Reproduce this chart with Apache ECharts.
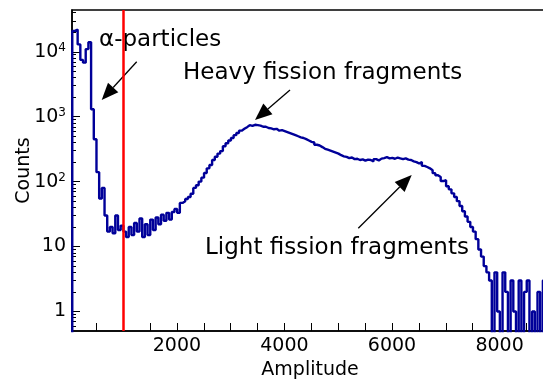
<!DOCTYPE html>
<html>
<head>
<meta charset="utf-8">
<script src="https://cdn.jsdelivr.net/npm/echarts@6/dist/echarts.min.js"></script>
<style>
  html, body { margin: 0; padding: 0; background: #fff; }
  #chart { width: 543px; height: 379px; }
</style>
</head>
<body>
<div id="chart"></div>
<script>
// histogram: bins of 50 starting at amplitude 55
const binStart = 55;
const binWidth = 50;
const counts = [
  21000, 22000, 13000, 7500, 6800, 11000, 14000, 1300, 450, 140,
  55, 80, 30, 17, 20, 16, 30, 18, 21, 17,
  14, 20, 15, 23, 17, 27, 14, 22, 15, 26,
  18, 28, 22, 31, 25, 33, 26, 34, 38, 33,
  47, 50, 54, 58, 65, 80, 88, 100, 115, 136,
  160, 180, 215, 241, 270, 295, 350, 390, 430, 470,
  520, 560, 610, 650, 690, 740, 720, 750, 740, 730,
  700, 700, 670, 660, 640, 650, 610, 620, 600, 580,
  560, 540, 520, 500, 480, 470, 450, 430, 410, 400,
  370, 360, 340, 320, 310, 300, 290, 280, 270, 255,
  245, 240, 230, 235, 222, 225, 215, 220, 210, 218,
  215, 205, 222, 212, 226, 230, 238, 228, 232, 225,
  235, 228, 222, 228, 218, 215, 205, 200, 190, 200,
  175, 168, 160, 150, 135, 125, 118, 102, 105, 85,
  76, 66, 58, 50, 42, 35, 29, 24, 20, 17,
  13, 9, 7, 5, 4, 3, 0, 4, 1, 0,
  4, 2, 0, 3, 1, 0, 3, 0, 2, 3,
  0, 1, 0, 2, 0, 3, 1
];
const cutValue = 1000;
const xLabelValues = [2000, 4000, 6000, 8000];
const xTickValues = [500, 1000, 1500, 2000, 2500, 3000, 3500, 4000, 4500, 5000, 5500, 6000, 6500, 7000, 7500, 8000, 8500];
const yMajorValues = [1, 10, 100, 1000, 10000];
const yLabelTexts = ['1', '10', '10{sup|2}', '10{sup|3}', '10{sup|4}'];

const yMinorValues = [0.6, 0.7, 0.8, 0.9];
for (const d of [1, 10, 100, 1000]) {
  for (let k = 2; k <= 9; k++) yMinorValues.push(k * d);
}
yMinorValues.push(20000, 30000, 40000);

const floor = 0.1;
const histData = [[binStart, floor]];
counts.forEach((c, i) => histData.push([binStart + i * binWidth, c > 0 ? c : floor]));
histData.push([binStart + counts.length * binWidth, counts[counts.length - 1] || floor]);

const FONT = 'DejaVu Sans';

function arrow(x1, y1, x2, y2) {
  const dx = x2 - x1, dy = y2 - y1;
  const len = Math.sqrt(dx * dx + dy * dy);
  const ux = dx / len, uy = dy / len;
  const hl = 17, hw = 7;
  const bx = x2 - ux * hl, by = y2 - uy * hl;
  return [
    { type: 'line', shape: { x1: x1, y1: y1, x2: bx, y2: by }, style: { stroke: '#000', lineWidth: 1.3 } },
    { type: 'polygon', shape: { points: [[x2, y2], [bx - uy * hw, by + ux * hw], [bx + uy * hw, by - ux * hw]] }, style: { fill: '#000' } }
  ];
}

function label(text, x, y) {
  return { type: 'text', style: { x: x, y: y, text: text, fill: '#000', font: '23px "' + FONT + '"', verticalAlign: 'middle' } };
}

const chart = echarts.init(document.getElementById('chart'));
chart.setOption({
  animation: false,
  backgroundColor: '#fff',
  grid: {
    left: 72, top: 10, right: -5, bottom: 48,
    outerBoundsMode: 'none', containLabel: false,
    show: true, borderColor: '#000', borderWidth: 1.5
  },
  xAxis: {
    type: 'value',
    min: 50,
    max: 8900,
    name: 'Amplitude',
    nameLocation: 'middle',
    nameGap: 30,
    nameMoveOverlap: false,
    nameTextStyle: { color: '#000', fontSize: 19, fontFamily: FONT },
    axisLine: { lineStyle: { color: '#000', width: 1.5 } },
    axisTick: { inside: true, length: 8, customValues: xTickValues, lineStyle: { color: '#000', width: 1 } },
    axisLabel: { customValues: xLabelValues, formatter: (v) => String(v), color: '#000', fontSize: 19, fontFamily: FONT, margin: 6 },
    splitLine: { show: false }
  },
  yAxis: [
    {
      type: 'log',
      logBase: 10,
      min: 0.5,
      max: 44000,
      name: 'Counts',
      nameLocation: 'middle',
      nameGap: 38,
      nameMoveOverlap: false,
      nameTextStyle: { color: '#000', fontSize: 19, fontFamily: FONT },
      axisLine: { show: true, lineStyle: { color: '#000', width: 1.5 } },
      axisTick: { inside: true, length: 8, customValues: yMajorValues, lineStyle: { color: '#000', width: 1 } },
      axisLabel: {
        customValues: yMajorValues,
        margin: 6,
        color: '#000',
        fontSize: 19,
        fontFamily: FONT,
        formatter: (v) => yLabelTexts[yMajorValues.indexOf(v)] || '',
        rich: { sup: { fontSize: 12, fontFamily: FONT, color: '#000', padding: [0, 0, 7, 0] } }
      },
      splitLine: { show: false }
    },
    {
      type: 'log',
      logBase: 10,
      min: 0.5,
      max: 44000,
      position: 'left',
      offset: 0,
      axisLine: { show: false },
      axisTick: { show: true, inside: true, length: 4, customValues: yMinorValues, lineStyle: { color: '#000', width: 1 } },
      axisLabel: { show: false },
      splitLine: { show: false }
    }
  ],
  series: [
    {
      type: 'line',
      step: 'end',
      data: histData,
      showSymbol: false,
      clip: true,
      lineStyle: { color: '#000099', width: 2.4 },
      itemStyle: { color: '#000099' },
      markLine: {
        silent: true,
        symbol: ['none', 'none'],
        label: { show: false },
        lineStyle: { color: '#ff0000', width: 2.5, type: 'solid' },
        data: [{ xAxis: cutValue }]
      }
    }
  ],
  graphic: [
    label('α-particles', 99, 40),
    label('Heavy fission fragments', 183, 73),
    label('Light fission fragments', 205, 248),
    ...arrow(136.7, 61.7, 101.7, 100),
    ...arrow(290, 90, 255, 120),
    ...arrow(358.3, 228.3, 411.7, 175)
  ]
});
</script>
</body>
</html>
